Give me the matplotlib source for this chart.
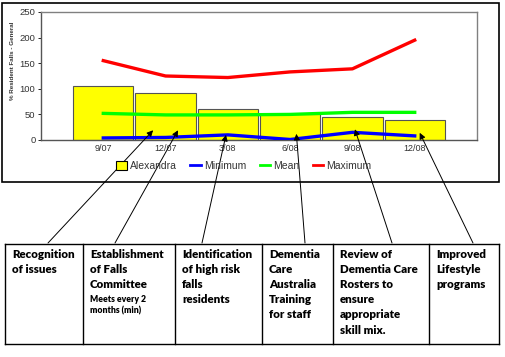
import matplotlib
matplotlib.use("Agg")
from matplotlib import pyplot as plt
from matplotlib.patches import Rectangle, Patch
from matplotlib.lines import Line2D

# data
quarters = ["9/07", "12/07", "3/08", "6/08", "9/08", "12/08"]
alexandra = [105, 92, 60, 50, 45, 40]
minimum = [4, 5, 10, 1, 15, 8]
mean = [52, 49, 49, 50, 54, 54]
maximum = [155, 125, 122, 133, 139, 195]
y_ticks = [0, 50, 100, 150, 200, 250]

initiatives = [
    ["Recognition", "of issues"],
    ["Establishment", "of Falls", "Committee"],
    ["Identification", "of high risk", "falls", "residents"],
    ["Dementia", "Care", "Australia", "Training", "for staff"],
    ["Review of", "Dementia Care", "Rosters to", "ensure", "appropriate", "skill mix."],
    ["Improved", "Lifestyle", "programs"],
]
committee_note = ["Meets every 2", "months (min)"]
# where each arrow points on the chart (quarter position, % value)
arrow_targets = [(0.8, 19), (1.2, 19), (1.97, 10), (3.1, 12), (4.04, 21), (5.08, 14)]

W, H = 506, 357
plt.rcParams['font.family'] = ['Liberation Sans', 'DejaVu Sans']
fig = plt.figure(figsize=(W / 100, H / 100), dpi=100)

# overlay in pixel coordinates for the frame and the table
over = fig.add_axes([0, 0, 1, 1], zorder=0)
over.set_xlim(0, W)
over.set_ylim(H, 0)
over.axis("off")
over.add_patch(Rectangle((2.5, 2.5), 496.5, 179.5, fill=False, lw=1.2, ec="black"))

# main chart
ax = fig.add_axes([41 / W, 1 - 140 / H, 436 / W, 128 / H], zorder=1)
ax.patch.set_alpha(0)
x = list(range(len(quarters)))
ax.bar(x, alexandra, width=0.97, color="#ffff00", edgecolor="#555555", linewidth=0.8, zorder=2)
ax.plot(x, minimum, color="#0000ff", lw=2.4, zorder=3)
ax.plot(x, mean, color="#00ff00", lw=2.4, zorder=3)
ax.plot(x, maximum, color="#ff0000", lw=2.4, zorder=3)
ax.set_xlim(-1, 6)
ax.set_ylim(0, 250)
ax.set_xticks(x)
ax.set_xticklabels(quarters, fontsize=6.5, color="#333333")
ax.set_yticks(y_ticks)
ax.set_yticklabels([str(v) for v in y_ticks], fontsize=6.8, color="#333333")
ax.tick_params(axis="x", length=0, pad=3)
ax.tick_params(axis="y", length=2, width=0.6, pad=2)
for s in ax.spines.values():
    s.set_color("#808080")
    s.set_linewidth(1.0)
ax.spines["left"].set_color("#555555")
ax.spines["bottom"].set_color("#555555")
ax.set_ylabel("% Resident Falls - General", fontsize=4.5, color="#333333", fontweight="bold")
ax.yaxis.set_label_coords(-0.06, 0.62)

handles = [
    Patch(facecolor="#ffff00", edgecolor="black", linewidth=0.8),
    Line2D([], [], color="#0000ff", lw=2),
    Line2D([], [], color="#00ff00", lw=2),
    Line2D([], [], color="#ff0000", lw=2),
]
fig.legend(handles, ["Alexandra", "Minimum", "Mean", "Maximum"], loc="center",
           bbox_to_anchor=(244 / W, 1 - 166 / H), ncol=4, frameon=False,
           fontsize=7.5, handlelength=1.0, handletextpad=0.3, columnspacing=1.3,
           handleheight=0.9, labelcolor="#333333")

# table of initiatives
top, bottom = 244, 344
col_edges = [5, 83, 175, 262, 333, 429, 499]
over.plot([col_edges[0], col_edges[-1]], [top, top], color="black", lw=1)
over.plot([col_edges[0], col_edges[-1]], [bottom, bottom], color="black", lw=1)
for ce in col_edges:
    over.plot([ce, ce], [top, bottom], color="black", lw=1)

tfont = dict(family=["Lato", "DejaVu Sans"], fontweight="heavy", fontsize=8.3,
             va="center", ha="left", color="black")
for i, lines in enumerate(initiatives):
    tx = col_edges[i] + 7
    for j, line in enumerate(lines):
        over.text(tx, 254 + j * 15.2, line, **tfont)
for j, line in enumerate(committee_note):
    over.text(col_edges[1] + 7, 300 + j * 11, line, family=["Lato", "DejaVu Sans"],
              fontweight="heavy", fontsize=6.2, va="center", ha="left")

# arrows from table to chart
tails = [48, 115, 202, 305, 392, 473]
for tx, (qx, qy) in zip(tails, arrow_targets):
    ax.annotate("", xy=(qx, qy), xycoords="data", xytext=(tx, 243),
                textcoords=over.transData, annotation_clip=False,
                arrowprops=dict(arrowstyle="-|>", color="black", lw=0.7,
                                mutation_scale=9, shrinkA=0, shrinkB=0), zorder=5)

fig.savefig("out.png", dpi=100)
